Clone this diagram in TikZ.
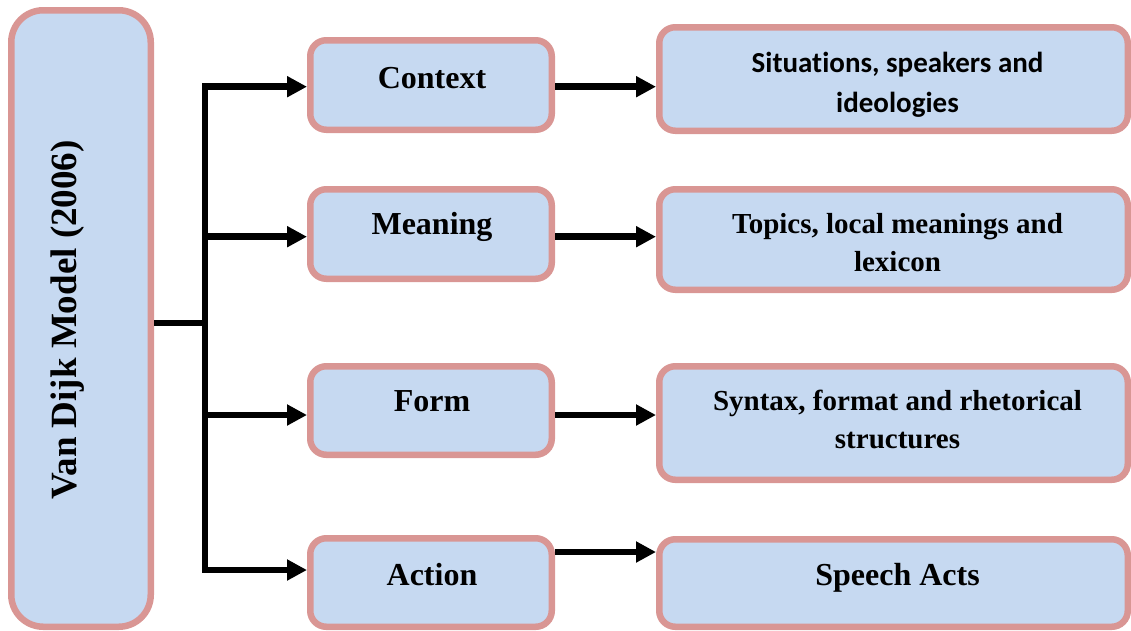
\documentclass[tikz,border=0pt]{standalone}
\usepackage{fontspec}
\setmainfont{Liberation Serif}
\newfontfamily\calibri[Ligatures=NoCommon]{Carlito}
\usetikzlibrary{arrows.meta}
\definecolor{boxfill}{RGB}{198,217,241}
\definecolor{boxline}{RGB}{217,150,148}
\begin{document}
\begin{tikzpicture}[x=1pt,y=-1pt,
  box/.style={draw=boxline, fill=boxfill, line width=6.5pt, rounded corners=16pt, inner sep=0pt, minimum width=241.5pt},
  rbox/.style={box, minimum width=468.5pt},
  conn/.style={line width=6.5pt, black},
  arr/.style={conn, -{Triangle[length=20pt,width=20pt]}},
  midtext/.style={font=\bfseries\fontsize{32}{38}\selectfont, anchor=base, inner sep=0pt},
  rtext/.style={font=\bfseries\fontsize{29}{38}\selectfont, anchor=base, inner sep=0pt, align=center},
]
\useasboundingbox (0,0) rectangle (1131,630);
\clip (0,0) rectangle (1131,630);

% boxes
\node[box, rounded corners=32pt, minimum width=139.5pt, minimum height=616.5pt] (big) at (81,318.5) {};
\node[box, minimum height=89.5pt] (context) at (431,85) {};
\node[box, minimum height=89.5pt] (meaning) at (431,234) {};
\node[box, minimum height=88.5pt] (form) at (431,410.5) {};
\node[box, minimum height=88.5pt] (action) at (431,582.5) {};
\node[rbox, minimum height=103.5pt] (sit) at (893.5,79) {};
\node[rbox, minimum height=100.5pt] (topics) at (893.5,239.5) {};
\node[rbox, minimum height=113.5pt] (syntax) at (893.5,423) {};
\node[rbox, minimum height=87.5pt] (speech) at (893.5,583) {};

% texts
\node[font=\bfseries\fontsize{37}{44}\selectfont, rotate=90, anchor=base, inner sep=0pt] (title) at (76,320) {Van Dijk Model (2006)};
\node[midtext] (t-context) at (432,88) {Context};
\node[midtext] (t-meaning) at (432,234.6) {Meaning};
\node[midtext] (t-form) at (432,411.6) {Form};
\node[midtext] (t-action) at (432,585.6) {Action};
\node[rtext, font=\calibri\bfseries\fontsize{29}{40}\selectfont] (t-sit) at (897.5,112) {Situations, speakers and\\ideologies};
\node[rtext] (t-topics) at (897.5,271.6) {Topics, local meanings and\\lexicon};
\node[rtext] (t-syntax) at (897.5,448.6) {Syntax, format and rhetorical\\structures};
\node[midtext] (t-speech) at (897.5,585.6) {Speech Acts};

% connectors
\coordinate (j) at (205,323);
\draw[conn] (big.east |- j) -- (j);
\path ([yshift=-1.7pt]context.west) coordinate (cw)
      ([yshift=-2.7pt]meaning.west) coordinate (mw)
      ([yshift=-4.5pt]form.west) coordinate (fw)
      ([yshift=12.5pt]action.west) coordinate (aw);
\draw[arr] (j) |- (cw);
\draw[arr] (j) |- (mw);
\draw[arr] (j) |- (fw);
\draw[arr] (j) |- (aw);
\path ([yshift=-1.7pt]context.east) coordinate (ce)
      ([yshift=-2.7pt]meaning.east) coordinate (me)
      ([yshift=-4.5pt]form.east) coordinate (fe)
      ([yshift=30.5pt]action.east) coordinate (ae);
\draw[arr] (ce) -- (ce -| sit.west);
\draw[arr] (me) -- (me -| topics.west);
\draw[arr] (fe) -- (fe -| syntax.west);
\draw[arr] (ae) -- (ae -| speech.west);
\end{tikzpicture}
\end{document}
